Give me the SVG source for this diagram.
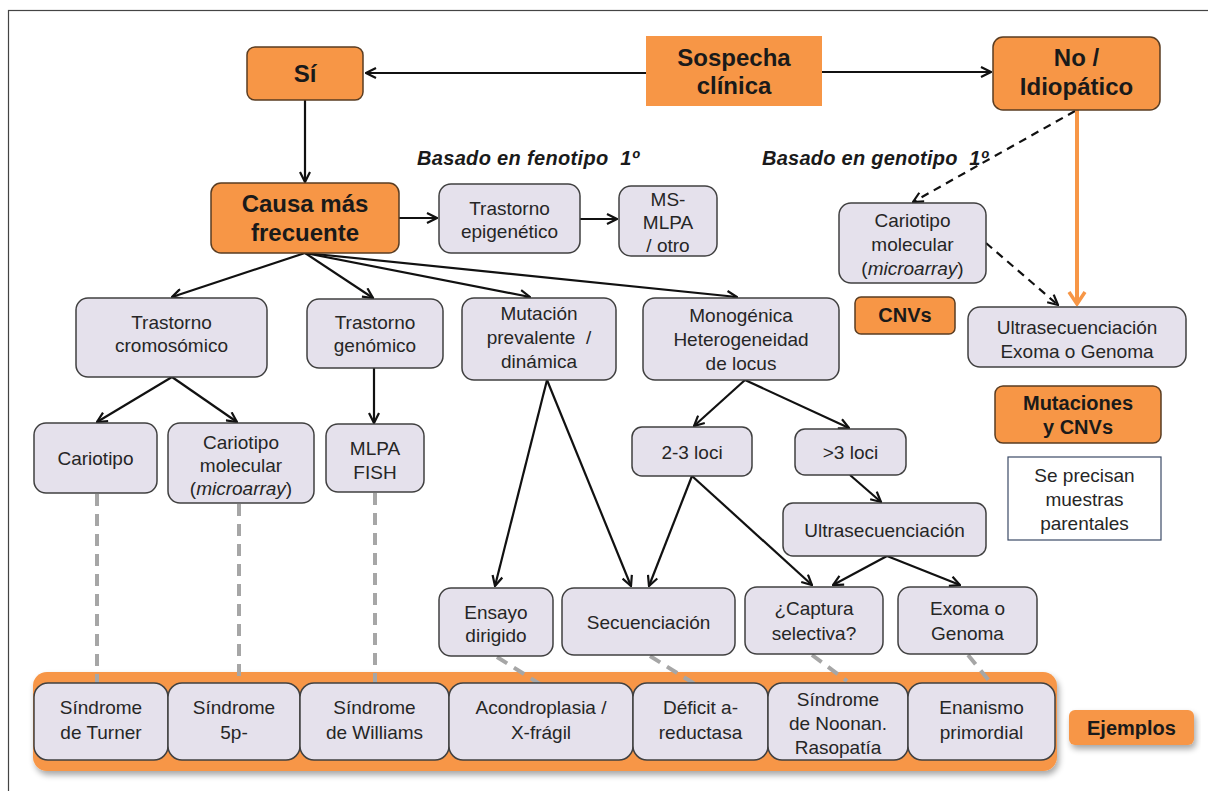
<svg xmlns="http://www.w3.org/2000/svg" width="1208" height="791" viewBox="0 0 1208 791">
<style>
text{font-family:"Liberation Sans",Arial,sans-serif;text-anchor:middle}
.t{font-size:19px;fill:#262626}
.b{font-size:24px;font-weight:bold;fill:#1a1a1a}
.bs{font-size:20px;font-weight:bold;fill:#1a1a1a}
.lbl{font-size:20px;font-weight:bold;font-style:italic;fill:#1a1a1a;text-anchor:start}
.lav{fill:#E5E1EC;stroke:#404040;stroke-width:1.5}
.or{fill:#F79646;stroke:#5a3d22;stroke-width:1.5}
.c{stroke:#111;stroke-width:2.2;fill:none}
.d{stroke:#111;stroke-width:2.2;fill:none;stroke-dasharray:8 6}
.g{stroke:#A6A6A6;stroke-width:4;fill:none;stroke-dasharray:12 8}
</style>
<defs>
<marker id="ah" viewBox="0 0 12 12" refX="11" refY="6" markerWidth="12" markerHeight="12" markerUnits="userSpaceOnUse" orient="auto">
<path d="M1,1 L11,6 L1,11" fill="none" stroke="#111" stroke-width="2.2"/>
</marker>
<marker id="aho" viewBox="0 0 16 20" refX="14" refY="10" markerWidth="16" markerHeight="20" markerUnits="userSpaceOnUse" orient="auto">
<path d="M2,2 L14,10 L2,18" fill="none" stroke="#F79646" stroke-width="3.5"/>
</marker>
<filter id="sh" x="-5%" y="-20%" width="110%" height="150%">
<feGaussianBlur in="SourceAlpha" stdDeviation="3"/>
<feOffset dx="2" dy="4"/>
<feComponentTransfer><feFuncA type="linear" slope="0.35"/></feComponentTransfer>
<feMerge><feMergeNode/><feMergeNode in="SourceGraphic"/></feMerge>
</filter>
</defs>
<rect x="0" y="0" width="1208" height="791" fill="#fff"/>
<rect x="8.5" y="10.5" width="1300" height="900" fill="none" stroke="#444" stroke-width="1.2"/>

<text class="lbl" x="417" y="165" textLength="222" xml:space="preserve">Basado en fenotipo  1º</text>
<text class="lbl" x="762" y="165" textLength="226" xml:space="preserve">Basado en genotipo  1º</text>

<g id="band">
<rect x="33" y="672" width="1024" height="99" rx="14" fill="#F79646" filter="url(#sh)"/>
</g>

<g id="connectors">
<line class="c" x1="646" y1="73" x2="366" y2="73" marker-end="url(#ah)"/>
<line class="c" x1="822" y1="72" x2="991" y2="72" marker-end="url(#ah)"/>
<line class="c" x1="305" y1="100" x2="305" y2="182" marker-end="url(#ah)"/>
<line class="c" x1="399" y1="218" x2="437" y2="218" marker-end="url(#ah)"/>
<line class="c" x1="580" y1="219" x2="617" y2="219" marker-end="url(#ah)"/>
<line class="c" x1="305" y1="253" x2="172" y2="297" marker-end="url(#ah)"/>
<line class="c" x1="305" y1="253" x2="373" y2="298" marker-end="url(#ah)"/>
<line class="c" x1="305" y1="253" x2="530" y2="297" marker-end="url(#ah)"/>
<line class="c" x1="305" y1="253" x2="737" y2="297" marker-end="url(#ah)"/>
<line class="d" x1="1075" y1="111" x2="913" y2="202" marker-end="url(#ah)"/>
<line x1="1077" y1="110" x2="1077" y2="304" stroke="#F79646" stroke-width="4" marker-end="url(#aho)"/>
<line class="d" x1="986" y1="243" x2="1058" y2="305" marker-end="url(#ah)"/>
<line class="c" x1="172" y1="377" x2="97" y2="422" marker-end="url(#ah)"/>
<line class="c" x1="172" y1="377" x2="237" y2="422" marker-end="url(#ah)"/>
<line class="c" x1="374" y1="368" x2="374" y2="423" marker-end="url(#ah)"/>
<line class="c" x1="547" y1="380" x2="495" y2="586" marker-end="url(#ah)"/>
<line class="c" x1="547" y1="380" x2="631" y2="586" marker-end="url(#ah)"/>
<line class="c" x1="745" y1="380" x2="694" y2="426" marker-end="url(#ah)"/>
<line class="c" x1="745" y1="380" x2="849" y2="428" marker-end="url(#ah)"/>
<line class="c" x1="850" y1="475" x2="881" y2="502" marker-end="url(#ah)"/>
<line class="c" x1="692" y1="476" x2="649" y2="586" marker-end="url(#ah)"/>
<line class="c" x1="692" y1="476" x2="812" y2="585" marker-end="url(#ah)"/>
<line class="c" x1="887" y1="556" x2="833" y2="585" marker-end="url(#ah)"/>
<line class="c" x1="887" y1="556" x2="960" y2="585" marker-end="url(#ah)"/>
<line class="g" x1="97" y1="494" x2="97" y2="683"/>
<line class="g" x1="239" y1="504" x2="239" y2="676"/>
<line class="g" x1="375" y1="493" x2="375" y2="686"/>
<line class="g" x1="497" y1="657" x2="543" y2="686"/>
<line class="g" x1="650" y1="656" x2="698" y2="686"/>
<line class="g" x1="812" y1="655" x2="847" y2="681"/>
<line class="g" x1="968" y1="655" x2="991" y2="683"/>
</g>

<g id="sospecha"><rect x="646" y="36" width="176" height="70" fill="#F79646"/>
<text class="b" x="734" y="66">Sospecha</text><text class="b" x="734" y="94">clínica</text></g>
<g id="si"><rect class="or" x="247" y="47" width="116" height="53" rx="8"/>
<text class="b" x="305" y="82">Sí</text></g>
<g id="no"><rect class="or" x="993" y="37" width="167" height="73" rx="10"/>
<text class="b" x="1076.5" y="66">No /</text><text class="b" x="1076.5" y="95">Idiopático</text></g>
<g id="causa"><rect class="or" x="211" y="183" width="188" height="70" rx="10"/>
<text class="b" x="305" y="212">Causa más</text><text class="b" x="305" y="241">frecuente</text></g>
<g id="epigenetico"><rect class="lav" x="439" y="184" width="141" height="69" rx="12"/>
<text class="t" x="509.5" y="215">Trastorno</text><text class="t" x="509.5" y="238">epigenético</text></g>
<g id="msmlpa"><rect class="lav" x="619" y="186" width="98" height="70" rx="12"/>
<text class="t" x="668" y="206">MS-</text><text class="t" x="668" y="229">MLPA</text><text class="t" x="668" y="252">/ otro</text></g>
<g id="cariomol-r"><rect class="lav" x="839" y="203" width="147" height="80" rx="12"/>
<text class="t" x="912.5" y="227">Cariotipo</text><text class="t" x="912.5" y="251">molecular</text><text class="t" x="912.5" y="275">(<tspan font-style="italic">microarray</tspan>)</text></g>
<g id="cromosomico"><rect class="lav" x="76" y="298" width="191" height="79" rx="12"/>
<text class="t" x="171.5" y="329">Trastorno</text><text class="t" x="171.5" y="352">cromosómico</text></g>
<g id="genomico"><rect class="lav" x="307" y="299" width="136" height="69" rx="12"/>
<text class="t" x="375" y="329">Trastorno</text><text class="t" x="375" y="352">genómico</text></g>
<g id="mutacion"><rect class="lav" x="462" y="298" width="154" height="82" rx="12"/>
<text class="t" x="539" y="320">Mutación</text><text class="t" x="539" y="344" xml:space="preserve">prevalente  /</text><text class="t" x="539" y="368">dinámica</text></g>
<g id="monogenica"><rect class="lav" x="643" y="298" width="196" height="82" rx="12"/>
<text class="t" x="741" y="322">Monogénica</text><text class="t" x="741" y="346">Heterogeneidad</text><text class="t" x="741" y="370">de locus</text></g>
<g id="cnvs"><rect class="or" x="855" y="297" width="100" height="37" rx="6"/>
<text class="bs" x="905" y="322">CNVs</text></g>
<g id="ultra-exoma"><rect class="lav" x="968" y="307" width="218" height="60" rx="12"/>
<text class="t" x="1077" y="334">Ultrasecuenciación</text><text class="t" x="1077" y="358">Exoma o Genoma</text></g>
<g id="mutcnv"><rect class="or" x="995" y="386" width="166" height="57" rx="8"/>
<text class="bs" x="1078" y="410">Mutaciones</text><text class="bs" x="1078" y="434">y CNVs</text></g>
<g id="parentales"><rect x="1008" y="457" width="153" height="83" fill="#fff" stroke="#3b4a66" stroke-width="1.2"/>
<text class="t" x="1084.5" y="482">Se precisan</text><text class="t" x="1084.5" y="506">muestras</text><text class="t" x="1084.5" y="530">parentales</text></g>
<g id="cariotipo"><rect class="lav" x="34" y="423" width="123" height="70" rx="12"/>
<text class="t" x="95.5" y="465">Cariotipo</text></g>
<g id="cariomol-l"><rect class="lav" x="168" y="423" width="146" height="80" rx="12"/>
<text class="t" x="241" y="449">Cariotipo</text><text class="t" x="241" y="472">molecular</text><text class="t" x="241" y="495">(<tspan font-style="italic">microarray</tspan>)</text></g>
<g id="mlpafish"><rect class="lav" x="326" y="424" width="98" height="68" rx="12"/>
<text class="t" x="375" y="455">MLPA</text><text class="t" x="375" y="479">FISH</text></g>
<g id="loci23"><rect class="lav" x="632" y="427" width="120" height="49" rx="10"/>
<text class="t" x="692" y="458.5">2-3 loci</text></g>
<g id="loci3"><rect class="lav" x="795" y="429" width="111" height="46" rx="10"/>
<text class="t" x="850.5" y="459">&gt;3 loci</text></g>
<g id="ultra"><rect class="lav" x="783" y="503" width="203" height="53" rx="10"/>
<text class="t" x="884.5" y="536.5">Ultrasecuenciación</text></g>
<g id="ensayo"><rect class="lav" x="439" y="588" width="114" height="68" rx="12"/>
<text class="t" x="496" y="619">Ensayo</text><text class="t" x="496" y="642">dirigido</text></g>
<g id="secuenciacion"><rect class="lav" x="562" y="588" width="173" height="67" rx="12"/>
<text class="t" x="648.5" y="628.5">Secuenciación</text></g>
<g id="captura"><rect class="lav" x="745" y="587" width="138" height="67" rx="12"/>
<text class="t" x="814" y="615">¿Captura</text><text class="t" x="814" y="640">selectiva?</text></g>
<g id="exoma"><rect class="lav" x="898" y="587" width="139" height="67" rx="12"/>
<text class="t" x="967.5" y="615">Exoma o</text><text class="t" x="967.5" y="640">Genoma</text></g>

<g id="turner"><rect class="lav" x="34" y="683" width="134" height="77" rx="14"/>
<text class="t" x="101" y="714">Síndrome</text><text class="t" x="101" y="739">de Turner</text></g>
<g id="s5p"><rect class="lav" x="168" y="683" width="132" height="77" rx="14"/>
<text class="t" x="234" y="714">Síndrome</text><text class="t" x="234" y="739">5p-</text></g>
<g id="williams"><rect class="lav" x="300" y="683" width="149" height="77" rx="14"/>
<text class="t" x="374.5" y="714">Síndrome</text><text class="t" x="374.5" y="739">de Williams</text></g>
<g id="acondroplasia"><rect class="lav" x="449" y="683" width="184" height="77" rx="14"/>
<text class="t" x="541" y="714">Acondroplasia /</text><text class="t" x="541" y="739">X-frágil</text></g>
<g id="deficit"><rect class="lav" x="633" y="683" width="135" height="77" rx="14"/>
<text class="t" x="700.5" y="714">Déficit a-</text><text class="t" x="700.5" y="739">reductasa</text></g>
<g id="noonan"><rect class="lav" x="768" y="683" width="140" height="77" rx="14"/>
<text class="t" x="838" y="706">Síndrome</text><text class="t" x="838" y="730">de Noonan.</text><text class="t" x="838" y="754">Rasopatía</text></g>
<g id="enanismo"><rect class="lav" x="908" y="683" width="147" height="77" rx="14"/>
<text class="t" x="981.5" y="714">Enanismo</text><text class="t" x="981.5" y="739">primordial</text></g>
<g id="ejemplos"><rect x="1069" y="710" width="125" height="35" rx="6" fill="#F79646" filter="url(#sh)"/>
<text class="bs" x="1131.5" y="734.5">Ejemplos</text></g>
</svg>
